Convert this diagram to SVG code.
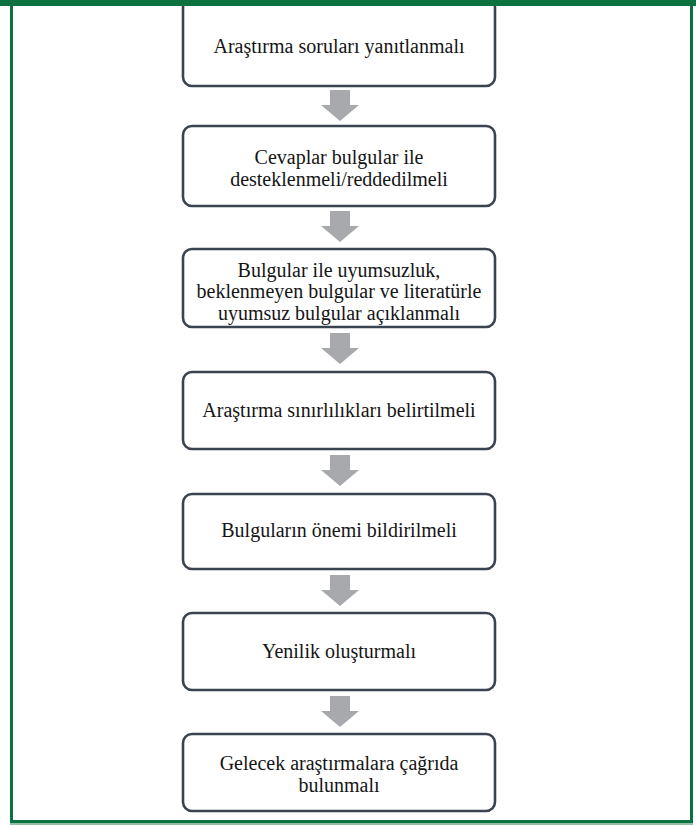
<svg xmlns="http://www.w3.org/2000/svg" width="696" height="825" viewBox="0 0 696 825">
<style>
.box{fill:#ffffff;stroke:#3b4350;stroke-width:2.6}
.t{font-family:'Liberation Serif','Times New Roman','DejaVu Serif',serif;font-size:20px;fill:#151515;text-anchor:middle}
.arr{fill:#a7a9ac}
.frame{fill:none;stroke:#0b7240;stroke-width:3}
</style>
<defs>
<path id="arrow" d="M-10,0 H10 V15 H19 L0,31 L-19,15 H-10 Z"/>
</defs>
<rect x="0" y="0" width="696" height="825" fill="#ffffff"/>
<g id="connectors">
<use href="#arrow" class="arr" x="340" y="90"/>
<use href="#arrow" class="arr" x="340" y="211"/>
<use href="#arrow" class="arr" x="340" y="333"/>
<use href="#arrow" class="arr" x="340" y="455"/>
<use href="#arrow" class="arr" x="340" y="575"/>
<use href="#arrow" class="arr" x="340" y="696"/>
</g>
<g id="n1">
<rect class="box" x="183" y="-2" width="312" height="88" rx="9"/>
<text class="t" x="339" y="53">Araştırma soruları yanıtlanmalı</text>
</g>
<g id="n2">
<rect class="box" x="183" y="126" width="312" height="80" rx="9"/>
<text class="t" x="339" y="164">Cevaplar bulgular ile</text>
<text class="t" x="339" y="186">desteklenmeli/reddedilmeli</text>
</g>
<g id="n3">
<rect class="box" x="183" y="249" width="312" height="78" rx="9"/>
<text class="t" x="339" y="277">Bulgular ile uyumsuzluk,</text>
<text class="t" x="339" y="298">beklenmeyen bulgular ve literatürle</text>
<text class="t" x="339" y="320">uyumsuz bulgular açıklanmalı</text>
</g>
<g id="n4">
<rect class="box" x="183" y="372" width="312" height="77" rx="9"/>
<text class="t" x="339" y="417">Araştırma sınırlılıkları belirtilmeli</text>
</g>
<g id="n5">
<rect class="box" x="183" y="494" width="312" height="75" rx="9"/>
<text class="t" x="339" y="537">Bulguların önemi bildirilmeli</text>
</g>
<g id="n6">
<rect class="box" x="183" y="613" width="312" height="77" rx="9"/>
<text class="t" x="339" y="658">Yenilik oluşturmalı</text>
</g>
<g id="n7">
<rect class="box" x="183" y="734" width="312" height="77" rx="9"/>
<text class="t" x="339" y="770">Gelecek araştırmalara çağrıda</text>
<text class="t" x="339" y="792">bulunmalı</text>
</g>
<g id="frame">
<rect x="0" y="0" width="696" height="6" fill="#0b7240"/>
<path class="frame" d="M11.5,6 V821.5 H691.5 V6"/>
<rect x="10" y="823" width="683" height="2" fill="#8fbfa4"/>
</g>
</svg>
